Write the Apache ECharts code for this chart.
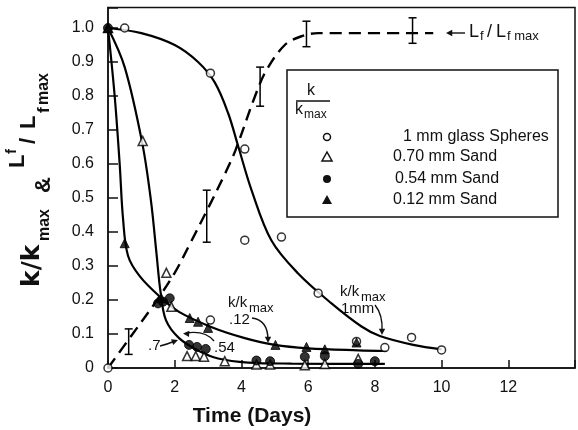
<!DOCTYPE html>
<html><head><meta charset="utf-8">
<script src="https://cdn.jsdelivr.net/npm/echarts@6/dist/echarts.min.js"></script>
<style>html,body{margin:0;padding:0;background:#fff}#c{width:578px;height:430px}</style>
</head><body><div id="c"></div>
<script>
// ---- data ----
const xTicks = [0, 2, 4, 6, 8, 10, 12];
const yTicks = [0, 0.1, 0.2, 0.3, 0.4, 0.5, 0.6, 0.7, 0.8, 0.9, 1.0];

// measured points
const glass1mm = [[0,0],[0.5,1.0],[3.07,0.867],[4.1,0.644],[4.1,0.376],[5.2,0.385],[3.07,0.141],[6.3,0.22],[7.45,0.078],[8.3,0.06],[9.1,0.09],[10,0.053]];
const sand070 = [[0,1.0],[1.04,0.668],[1.75,0.28],[1.9,0.18],[2.37,0.035],[2.63,0.035],[2.88,0.033],[3.5,0.02],[4.45,0.01],[4.86,0.01],[5.9,0.008],[6.5,0.012],[7.5,0.027]];
const sand054 = [[0,1.0],[1.5,0.19],[1.65,0.195],[1.85,0.205],[2.43,0.068],[2.67,0.062],[2.93,0.056],[4.45,0.022],[4.86,0.02],[5.9,0.033],[6.5,0.035],[7.5,0.012],[8.0,0.02]];
const sand012 = [[0,1.0],[0.5,0.367],[1.6,0.205],[2.45,0.147],[2.7,0.136],[3.0,0.118],[5.02,0.068],[5.95,0.062],[6.5,0.055],[7.45,0.075]];

// fitted curves (anchor points)
const fit1mm = [[0,1.0],[1,0.985],[2,0.95],[2.7,0.9],[3.2,0.84],[3.6,0.75],[3.91,0.65],[4.3,0.524],[4.9,0.375],[5.7,0.278],[6.7,0.19],[7.6,0.122],[8.15,0.094],[9.15,0.068],[10,0.055]];
const fit012 = [[0,1.0],[0.2,0.8],[0.35,0.6],[0.45,0.44],[0.6,0.33],[0.95,0.27],[1.55,0.21],[2.13,0.165],[3.11,0.12],[4.1,0.088],[5.0,0.068],[6.0,0.058],[7.5,0.052],[8.35,0.05]];
const fit07 = [[0,1.0],[0.5,0.885],[1.03,0.66],[1.29,0.49],[1.45,0.34],[1.58,0.22],[1.74,0.14],[2.13,0.088],[2.73,0.05],[3.3,0.028],[4.2,0.016],[5.5,0.013],[8.3,0.012]];
const fitLf = [[0,0],[0.7,0.095],[1.4,0.19],[2.0,0.28],[2.43,0.36],[3.02,0.474],[3.5,0.57],[3.82,0.64],[4.41,0.80],[4.75,0.876],[5.3,0.95],[5.78,0.975],[6.3,0.985],[9.75,0.985]];
// L_f error bars: [x, low, high]
const lfErr = [[0.62,0.04,0.115],[2.96,0.37,0.523],[4.56,0.77,0.885],[5.95,0.945,1.02],[9.13,0.955,1.03]];

const FONT = 'Liberation Sans';
const chart = echarts.init(document.getElementById('c'), null, {renderer:'canvas'});

function fmt(v){ if (Math.abs(v*10-Math.round(v*10))>1e-6) return ''; return v===0?'0':v.toFixed(1); }

const openStyle = {color:'#fff', borderColor:'#000', borderWidth:1.5};
const fillStyle = {color:'#000', borderColor:'#000', borderWidth:1};
const lineBase = {color:'#000', width:2.2};

const option = {
  animation:false,
  backgroundColor:'#fff',
  grid:{left:108, top:7.6, right:-3, height:360.4, show:true, borderColor:'#111', borderWidth:1.5, backgroundColor:'transparent'},
  xAxis:{type:'value', min:0, max:14, interval:2,
    axisLine:{show:true, lineStyle:{color:'#111', width:1.5}},
    axisTick:{show:true, inside:true, length:8, lineStyle:{color:'#111', width:1.5}},
    axisLabel:{color:'#111', fontFamily:FONT, fontSize:16, margin:12, formatter:v=> xTicks.indexOf(v)>=0 ? String(v) : ''},
    splitLine:{show:false}},
  yAxis:{type:'value', min:0, max:1.06, interval:0.1,
    axisLine:{show:true, lineStyle:{color:'#111', width:1.5}},
    axisTick:{show:true, inside:true, length:10, lineStyle:{color:'#111', width:1.5}},
    axisLabel:{color:'#111', fontFamily:FONT, fontSize:16, margin:14, formatter:v=> fmt(v)},
    splitLine:{show:false}},
  series:[
    {type:'line', data:fit1mm, smooth:0.35, symbol:'none', lineStyle:lineBase, z:2},
    {type:'line', data:fit012, smooth:0.35, symbol:'none', lineStyle:lineBase, z:2},
    {type:'line', data:fit07, smooth:0.35, symbol:'none', lineStyle:lineBase, z:2},
    {type:'line', data:fitLf, smooth:0.35, symbol:'none', lineStyle:{color:'#000', width:2.4, type:[12,7]}, z:2},
    {type:'custom', data:lfErr, z:3, renderItem:function(params, api){
        const p1 = api.coord([api.value(0), api.value(1)]);
        const p2 = api.coord([api.value(0), api.value(2)]);
        const w = 4;
        const st = {stroke:'#000', lineWidth:1.5};
        return {type:'group', children:[
          {type:'line', shape:{x1:p1[0], y1:p1[1], x2:p2[0], y2:p2[1]}, style:st},
          {type:'line', shape:{x1:p1[0]-w, y1:p1[1], x2:p1[0]+w, y2:p1[1]}, style:st},
          {type:'line', shape:{x1:p2[0]-w, y1:p2[1], x2:p2[0]+w, y2:p2[1]}, style:st}
        ]};
      }},
    {type:'scatter', data:sand070, symbol:'triangle', symbolSize:9, itemStyle:openStyle, z:4},
    {type:'scatter', data:glass1mm, symbol:'circle', symbolSize:8, itemStyle:openStyle, z:4},
    {type:'scatter', data:sand054, symbol:'circle', symbolSize:9, itemStyle:fillStyle, z:5},
    {type:'scatter', data:sand012, symbol:'triangle', symbolSize:9, itemStyle:fillStyle, z:5}
  ]
};
chart.setOption(option);

// ---- annotations, legend box and axis titles ----
function T(text, x, y, size, bold, align){
  return {type:'text', x:x, y:y, z:20, style:{text:text, fill:'#111', font:(bold?'bold ':'')+size+'px "'+FONT+'"', align:align||'left', verticalAlign:'middle'}};
}
function arrowHead(x, y, ang, len){ // ang = direction of travel in radians
  const a1 = ang + Math.PI*0.85, a2 = ang - Math.PI*0.85;
  return {type:'polygon', z:20, shape:{points:[[x,y],[x+len*Math.cos(a1), y+len*Math.sin(a1)],[x+len*Math.cos(a2), y+len*Math.sin(a2)]]}, style:{fill:'#111'}};
}
function curve(x1,y1,cx,cy,x2,y2){ return {type:'bezierCurve', z:20, shape:{x1:x1,y1:y1,cpx1:cx,cpy1:cy,x2:x2,y2:y2}, style:{stroke:'#111', lineWidth:1.4, fill:null}}; }

const g = [];
// legend box
g.push({type:'rect', z:15, shape:{x:287, y:70, width:271, height:147}, style:{fill:'#fff', stroke:'#111', lineWidth:1.5}});
g.push(T('k', 311, 91, 16, false, 'center'));
g.push({type:'line', z:20, shape:{x1:296, y1:101, x2:330, y2:101}, style:{stroke:'#111', lineWidth:1.4}});
g.push(T('k', 295, 110, 16));
g.push(T('max', 304, 115, 12));
g.push({type:'circle', z:20, shape:{cx:327, cy:137, r:3.5}, style:{fill:'#fff', stroke:'#111', lineWidth:1.5}});
g.push({type:'polygon', z:20, shape:{points:[[327,152],[322,161],[332,161]]}, style:{fill:'#fff', stroke:'#111', lineWidth:1.5}});
g.push({type:'circle', z:20, shape:{cx:327, cy:179, r:4}, style:{fill:'#111'}});
g.push({type:'polygon', z:20, shape:{points:[[327,195],[322,204],[332,204]]}, style:{fill:'#111'}});
g.push(T('1 mm glass Spheres', 403, 137, 16));
g.push(T('0.70 mm Sand', 393, 157, 16));
g.push(T('0.54 mm Sand', 395, 179, 16));
g.push(T('0.12 mm Sand', 393, 200, 16));

// k/kmax .12 label
g.push(T('k/k', 228, 303, 15));
g.push(T('max', 249, 308, 13));
g.push(T('.12', 229, 320, 15));
g.push(curve(252,318, 268,320, 268,340)); g.push(arrowHead(268,343, Math.PI/2, 7));
// .54
g.push(T('.54', 214, 348, 15));
g.push(curve(214,341, 205,330, 186,333)); g.push(arrowHead(183,333.5, Math.PI*1.02, 7));
// .7
g.push(T('.7', 148, 346, 15));
g.push(curve(160,346, 168,344, 175,341)); g.push(arrowHead(178,340, -0.35, 7));
// 1mm label
g.push(T('k/k', 340, 292, 15));
g.push(T('max', 361, 297, 13));
g.push(T('1mm', 341, 309, 15));
g.push(curve(375,305, 383,315, 382,331)); g.push(arrowHead(382,335, Math.PI/2, 7));
// Lf / Lfmax label
g.push({type:'line', z:20, shape:{x1:450, y1:33, x2:465, y2:33}, style:{stroke:'#111', lineWidth:1.4}});
g.push(arrowHead(446,33, Math.PI, 7));
g.push(T('L', 469, 32, 18));
g.push(T('f', 480, 36, 13));
g.push(T('/', 487, 32, 18));
g.push(T('L', 496, 32, 18));
g.push(T('f max', 507, 36, 13));

// x axis title
g.push(T('Time (Days)', 252, 416, 21, true, 'center'));

// y axis title (rotated group; local x runs upward on screen, local y = screen x)
function RT(text, lx, ly, size, fam){ return {type:'text', x:lx, y:ly, style:{text:text, fill:'#111', font:'bold '+size+'px "'+(fam||FONT)+'"', align:'left', verticalAlign:'middle'}}; }
g.push({type:'group', x:0, y:287, rotation:Math.PI/2, z:20, children:[
  RT('k/k', 0, 32, 25, 'DejaVu Sans'),
  RT('max', 46, 45, 16),
  RT('&', 94, 44, 22),
  RT('L', 119, 18, 22),
  RT('f', 133, 12, 15),
  RT('/', 143, 29, 22),
  RT('L', 158, 29, 22),
  RT('f', 174, 44, 17),
  RT('max', 182, 44, 16)
]});

chart.setOption({graphic:g});
</script></body></html>
